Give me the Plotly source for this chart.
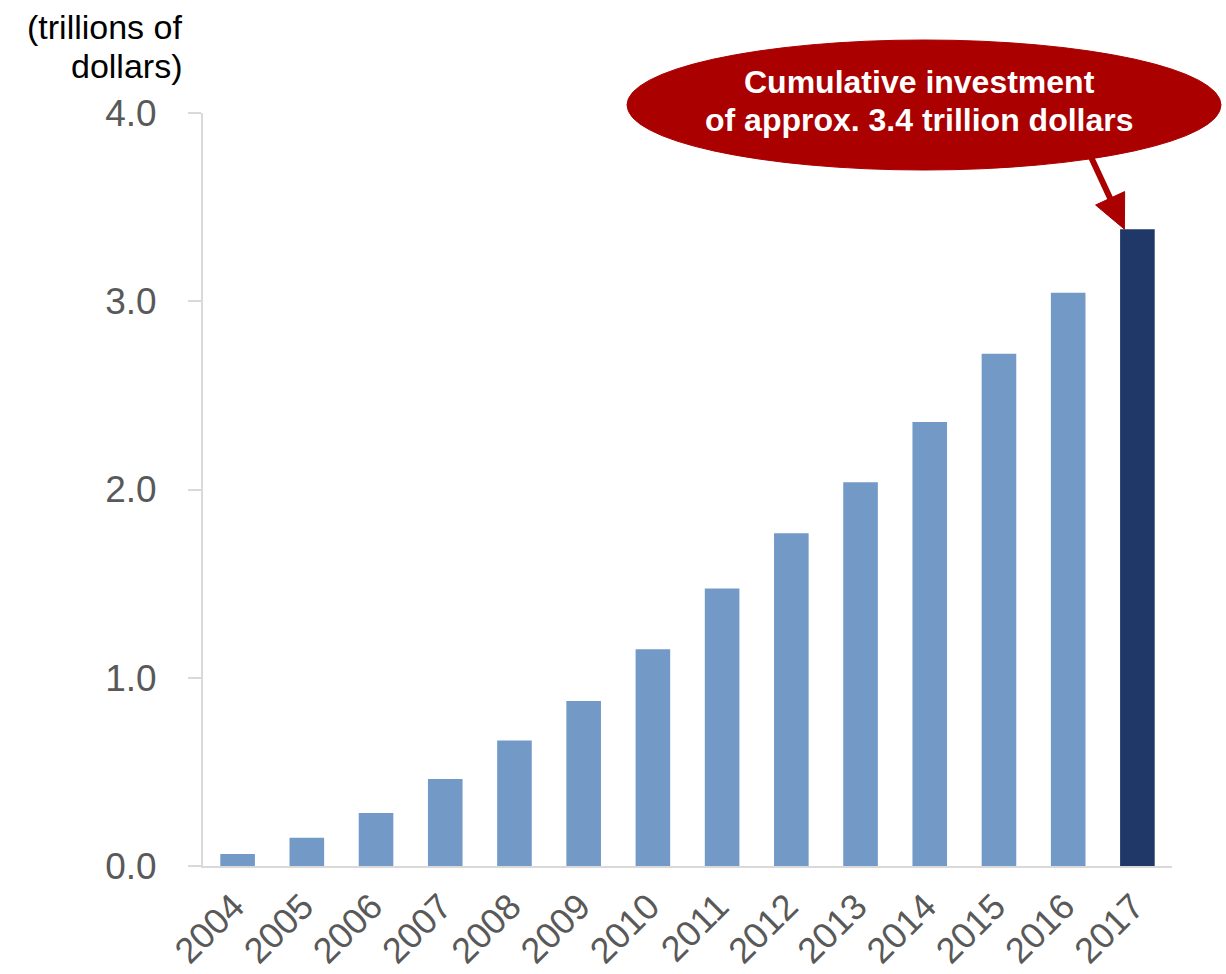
import plotly.graph_objects as go

# Cumulative investment by year (trillions of dollars)
years = ["2004", "2005", "2006", "2007", "2008", "2009", "2010",
         "2011", "2012", "2013", "2014", "2015", "2016", "2017"]
cumulative = [0.064, 0.150, 0.281, 0.462, 0.667, 0.876, 1.152,
              1.474, 1.767, 2.038, 2.358, 2.721, 3.045, 3.383]
y_ticks = [0, 1, 2, 3, 4]

LIGHT = "#739AC7"
DARK = "#1F3867"
RED = "#AA0000"
AXIS = "#D9D9D9"
FONT = "Liberation Sans, Arial, sans-serif"

bar_colors = [LIGHT] * (len(years) - 1) + [DARK]

fig = go.Figure(
    go.Bar(x=years, y=cumulative, marker=dict(color=bar_colors, line=dict(width=0)))
)

W, H = 1226, 974
ML, MR, MT, MB = 203, 54, 113, 108
pw, ph = W - ML - MR, H - MT - MB
Y_MAX = 4.0


def px(x):
    return (x - ML) / pw


def py(y):
    return (H - MB - y) / ph


fig.update_layout(
    width=W, height=H, autosize=False,
    margin=dict(l=ML, r=MR, t=MT, b=MB, pad=0, autoexpand=False),
    paper_bgcolor="white", plot_bgcolor="white",
    bargap=0.5, showlegend=False,
    font=dict(family=FONT),
    xaxis=dict(
        type="category", range=[-0.5, len(years) - 0.5],
        showline=True, linecolor=AXIS, linewidth=2,
        ticks="", showgrid=False, zeroline=False, automargin=False,
        tickangle=-45, ticklabelstandoff=3, ticklabelshift=-4,
        tickfont=dict(size=36, color="#595959", family=FONT),
    ),
    yaxis=dict(
        range=[0, Y_MAX], tickvals=y_ticks, tickformat=".1f",
        showline=True, linecolor=AXIS, linewidth=2,
        ticks="outside", ticklen=13, tickwidth=2, tickcolor=AXIS,
        showgrid=False, zeroline=False, ticklabelstandoff=24, automargin=False,
        tickfont=dict(size=37, color="#595959", family=FONT),
    ),
)

# Ellipse callout above the final bar
fig.add_shape(
    type="circle", xref="paper", yref="paper",
    x0=px(627), x1=px(1221), y0=py(170), y1=py(40),
    fillcolor=RED, line=dict(color=RED, width=1), layer="above",
)

callout_lines = ["Cumulative investment", "of approx. 3.4 trillion dollars"]
for line, yc in zip(callout_lines, [82, 120]):
    fig.add_annotation(
        xref="paper", yref="paper", x=px(919), y=py(yc),
        text=f"<b>{line}</b>", showarrow=False,
        xanchor="center", yanchor="middle",
        font=dict(size=32, color="white", family=FONT),
    )

# Arrow from the callout to the top of the 2017 bar (pixel geometry -> paper)
last_idx = len(years) - 1
bar_center_px = ML + (last_idx + 0.5) * pw / len(years)
tip = (bar_center_px - 13, H - MB - cumulative[-1] / Y_MAX * ph)
tail = (tip[0] - 37, tip[1] - 80)
dx, dy = tip[0] - tail[0], tip[1] - tail[1]
length = (dx ** 2 + dy ** 2) ** 0.5
ux, uy = dx / length, dy / length
head_len, head_half = 34, 16
base = (tip[0] - head_len * ux, tip[1] - head_len * uy)
c1 = (base[0] - head_half * uy, base[1] + head_half * ux)
c2 = (base[0] + head_half * uy, base[1] - head_half * ux)

fig.add_shape(
    type="line", xref="paper", yref="paper",
    x0=px(tail[0]), y0=py(tail[1]), x1=px(base[0] + 2 * ux), y1=py(base[1] + 2 * uy),
    line=dict(color=RED, width=6), layer="above",
)
fig.add_shape(
    type="path", xref="paper", yref="paper",
    path=(f"M {px(tip[0])},{py(tip[1])} L {px(c1[0])},{py(c1[1])} "
          f"L {px(c2[0])},{py(c2[1])} Z"),
    fillcolor=RED, line=dict(color=RED, width=1), layer="above",
)

# Unit label above the y axis
for line, yc in zip(["(trillions of", "dollars)"], [27, 66]):
    fig.add_annotation(
        xref="paper", yref="paper", x=px(184), y=py(yc),
        text=line, showarrow=False,
        xanchor="right", yanchor="middle",
        font=dict(size=34, color="black", family=FONT),
    )

fig.write_html("out.html")
